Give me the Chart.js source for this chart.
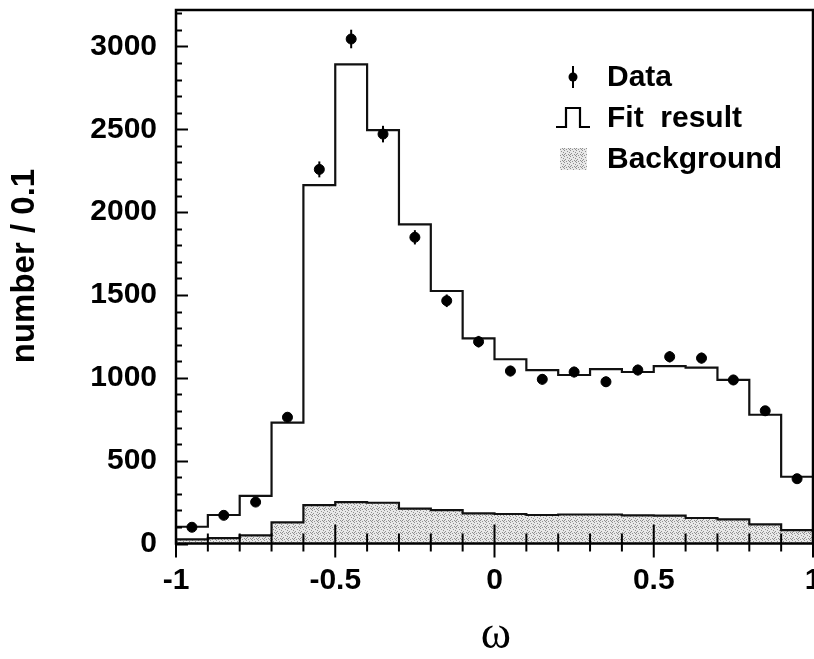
<!DOCTYPE html>
<html>
<head>
<meta charset="utf-8">
<script src="https://cdn.jsdelivr.net/npm/chart.js@4.4.1/dist/chart.umd.min.js"></script>
<style>
html, body { margin: 0; padding: 0; background: #fff; }
</style>
</head>
<body>
<canvas id="omega_chart" width="814" height="659"></canvas>
<script>
// ω 分布 (幅 0.1 のビン)
const binCenters = [-0.95, -0.85, -0.75, -0.65, -0.55, -0.45, -0.35, -0.25, -0.15, -0.05,
                    0.05, 0.15, 0.25, 0.35, 0.45, 0.55, 0.65, 0.75, 0.85, 0.95];
const dataCounts = [98, 170, 250, 762, 2258, 3045, 2471, 1848, 1465, 1218,
                    1041, 991, 1035, 976, 1047, 1127, 1119, 987, 801, 391];
const dataErrors = [10, 13, 16, 28, 48, 56, 50, 43, 38, 35,
                    32, 31, 32, 31, 32, 34, 33, 31, 28, 20];
const fitCounts = [101, 172, 287, 729, 2163, 2892, 2495, 1926, 1524, 1238,
                   1112, 1047, 1017, 1053, 1035, 1071, 1061, 987, 777, 403];
const bgCounts = [25, 33, 49, 128, 232, 250, 246, 210, 202, 182,
                  178, 172, 175, 175, 170, 168, 154, 146, 116, 81];
const xTicks = [-1, -0.5, 0, 0.5, 1];
const yTicks = [0, 500, 1000, 1500, 2000, 2500, 3000];
const legendLabels = ['Data', 'Fit  result', 'Background'];

const sansBold = 'bold 30px "Liberation Sans", Arial, sans-serif';

// ヒストグラム用の階段データ (左端 + 最後の右端)
function stepPoints(vals) {
    const pts = binCenters.map((c, i) => ({x: Math.round((c - 0.05) * 100) / 100, y: vals[i]}));
    const n = binCenters.length - 1;
    pts.push({x: Math.round((binCenters[n] + 0.05) * 100) / 100, y: vals[n]});
    return pts;
}

// 背景の網かけパターン
function stipple() {
    const c = document.createElement('canvas');
    c.width = 6; c.height = 6;
    const g = c.getContext('2d');
    g.fillStyle = '#e8e8e8';
    g.fillRect(0, 0, 6, 6);
    g.fillStyle = '#909090';
    [[0,0],[3,1],[5,2],[1,3],[4,4],[2,5],[5,5],[0,4]].forEach(p => g.fillRect(p[0], p[1], 1, 1));
    return g.createPattern(c, 'repeat');
}
const bgPattern = stipple();

// 誤差棒・目盛り・枠・タイトル・凡例を描く
const decorations = {
    id: 'decorations',
    afterDatasetsDraw(chart) {
        const ctx = chart.ctx;
        const xs = chart.scales.x, ys = chart.scales.y;
        const a = chart.chartArea;
        ctx.save();
        ctx.strokeStyle = '#000';
        ctx.fillStyle = '#000';

        // 誤差棒
        ctx.lineWidth = 2;
        binCenters.forEach((c, i) => {
            const px = xs.getPixelForValue(c);
            ctx.beginPath();
            ctx.moveTo(px, ys.getPixelForValue(dataCounts[i] - dataErrors[i]));
            ctx.lineTo(px, ys.getPixelForValue(dataCounts[i] + dataErrors[i]));
            ctx.stroke();
        });

        // 枠
        ctx.lineWidth = 2.5;
        ctx.strokeRect(a.left, a.top, a.right - a.left, a.bottom - a.top);

        // y 目盛り (内向き)
        ctx.lineWidth = 2;
        for (let v = 0; v <= 3200; v += 100) {
            const py = Math.round(ys.getPixelForValue(v)) + 0.5;
            const len = v % 500 === 0 ? 12 : 6;
            ctx.beginPath();
            ctx.moveTo(a.left, py);
            ctx.lineTo(a.left + len, py);
            ctx.stroke();
        }
        // x 目盛り (軸をまたぐ)
        for (let k = 0; k <= 20; k++) {
            const px = xs.getPixelForValue(-1 + k * 0.1);
            const major = k % 5 === 0;
            ctx.beginPath();
            ctx.moveTo(px, a.bottom - (major ? 19 : 10));
            ctx.lineTo(px, a.bottom + (major ? 14 : 8));
            ctx.stroke();
        }

        // 軸タイトル
        ctx.font = 'bold 33px "Liberation Sans", Arial, sans-serif';
        ctx.textAlign = 'center';
        ctx.textBaseline = 'middle';
        ctx.save();
        ctx.translate(25, 266);
        ctx.rotate(-Math.PI / 2);
        ctx.fillText('number / 0.1', 0, 0);
        ctx.restore();
        ctx.font = '46px "Liberation Serif", "Times New Roman", serif';
        ctx.fillText('ω', 496, 636);

        // 凡例
        ctx.font = sansBold;
        ctx.textAlign = 'left';
        const rows = [77, 118, 159];
        // Data
        ctx.lineWidth = 2;
        ctx.beginPath();
        ctx.moveTo(573, rows[0] - 11);
        ctx.lineTo(573, rows[0] + 11);
        ctx.stroke();
        ctx.beginPath();
        ctx.arc(573, rows[0], 4.5, 0, Math.PI * 2);
        ctx.fill();
        // Fit result
        ctx.lineWidth = 2.2;
        ctx.beginPath();
        ctx.moveTo(556, rows[1] + 9);
        ctx.lineTo(566, rows[1] + 9);
        ctx.lineTo(566, rows[1] - 10);
        ctx.lineTo(580, rows[1] - 10);
        ctx.lineTo(580, rows[1] + 9);
        ctx.lineTo(590, rows[1] + 9);
        ctx.stroke();
        // Background
        ctx.fillStyle = bgPattern;
        ctx.fillRect(560, rows[2] - 11, 27, 22);
        ctx.fillStyle = '#000';
        legendLabels.forEach((t, i) => ctx.fillText(t, 607, rows[i] + 1));
        ctx.restore();
    }
};

new Chart(document.getElementById('omega_chart'), {
    type: 'line',
    data: {
        datasets: [{
            label: 'Data',
            type: 'scatter',
            data: binCenters.map((c, i) => ({x: c, y: dataCounts[i]})),
            pointRadius: 5,
            pointHoverRadius: 5,
            pointBackgroundColor: '#000',
            pointBorderColor: '#000',
            showLine: false
        }, {
            label: 'Fit result',
            data: stepPoints(fitCounts),
            stepped: 'before',
            borderColor: '#111',
            borderWidth: 2.2,
            pointRadius: 0,
            fill: false
        }, {
            label: 'Background',
            data: stepPoints(bgCounts),
            stepped: 'before',
            borderColor: '#111',
            borderWidth: 2.2,
            pointRadius: 0,
            backgroundColor: bgPattern,
            fill: 'origin'
        }]
    },
    options: {
        responsive: false,
        animation: false,
        devicePixelRatio: 1,
        layout: {autoPadding: false, padding: {top: 10, right: 1, left: 0, bottom: 0}},
        plugins: {legend: {display: false}, tooltip: {enabled: false}},
        scales: {
            x: {
                type: 'linear',
                min: -1,
                max: 1,
                grid: {display: false, drawTicks: false},
                border: {display: false},
                afterBuildTicks: s => { s.ticks = xTicks.map(v => ({value: v})); },
                afterFit: s => { s.height = 115.5; s.paddingLeft = 0; s.paddingRight = 0; },
                ticks: {
                    color: '#000',
                    padding: 19,
                    maxRotation: 0,
                    autoSkip: false,
                    callback: v => String(v),
                    font: {family: '"Liberation Sans", Arial, sans-serif', size: 30, weight: 'bold'}
                }
            },
            y: {
                type: 'linear',
                min: 0,
                max: 3220,
                grid: {display: false, drawTicks: false},
                border: {display: false},
                afterBuildTicks: s => { s.ticks = yTicks.map(v => ({value: v})); },
                afterFit: s => { s.width = 176; s.paddingTop = 0; s.paddingBottom = 0; },
                ticks: {
                    color: '#000',
                    padding: 19,
                    callback: v => String(v),
                    font: {family: '"Liberation Sans", Arial, sans-serif', size: 30, weight: 'bold'}
                }
            }
        }
    },
    plugins: [decorations]
});
</script>
</body>
</html>
